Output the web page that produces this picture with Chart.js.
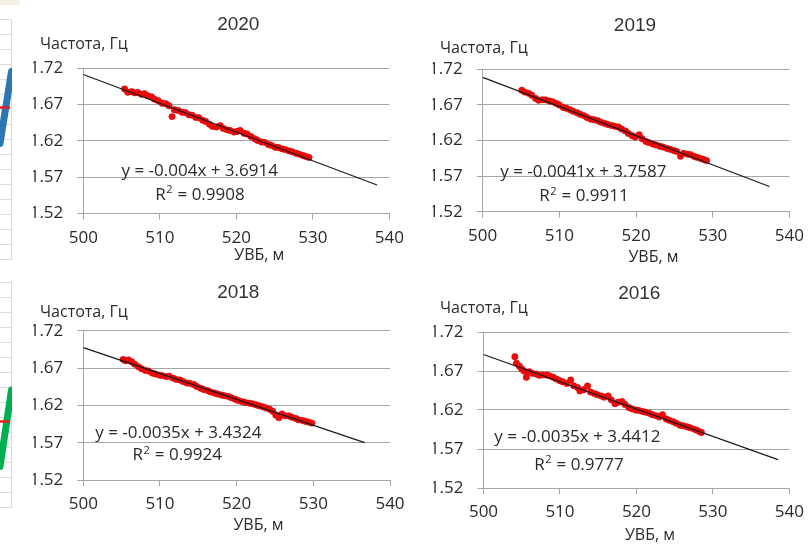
<!DOCTYPE html>
<html>
<head>
<meta charset="utf-8">
<script src="https://cdn.jsdelivr.net/npm/chart.js@4.4.1/dist/chart.umd.min.js"></script>
<style>
  html, body { margin: 0; padding: 0; background: #ffffff; }
  body { width: 812px; height: 544px; position: relative; overflow: hidden; }
  canvas { position: absolute; left: 0; top: 0; }
</style>
</head>
<body>
<canvas id="stripTop" width="812" height="544"></canvas>
<canvas id="stripBottom" width="812" height="544"></canvas>
<canvas id="c2020" width="812" height="544"></canvas>
<canvas id="c2019" width="812" height="544"></canvas>
<canvas id="c2018" width="812" height="544"></canvas>
<canvas id="c2016" width="812" height="544"></canvas>
<script>
// ---- Measurements: water level (УВБ, m) and natural frequency (Hz) ----
const uvb2020 = [505.4, 505.8, 506.3, 506.7, 507.1, 507.6, 508.0, 508.4, 508.9, 509.3,
  509.8, 510.3, 510.8, 511.2, 511.6, 511.9, 512.4, 512.9, 513.3, 513.8,
  514.2, 514.7, 515.1, 515.6, 516.0, 516.5, 516.9, 517.4, 517.9, 518.3,
  518.8, 519.2, 519.7, 520.1, 520.5, 521.0, 521.4, 521.9, 522.4, 522.8,
  523.3, 523.7, 524.2, 524.6, 525.1, 525.5, 526.0, 526.4, 526.9, 527.3,
  527.8, 528.2, 528.7, 529.1, 529.5];
const freq2020 = [1.6915, 1.6870, 1.6878, 1.6862, 1.6868, 1.6842, 1.6850, 1.6822, 1.6808, 1.6775,
  1.6752, 1.6718, 1.6712, 1.6684, 1.6535, 1.6630, 1.6620, 1.6594, 1.6592, 1.6561,
  1.6555, 1.6524, 1.6520, 1.6484, 1.6468, 1.6428, 1.6400, 1.6392, 1.6410, 1.6372,
  1.6352, 1.6343, 1.6322, 1.6330, 1.6345, 1.6305, 1.6296, 1.6262, 1.6230, 1.6205,
  1.6184, 1.6180, 1.6150, 1.6138, 1.6112, 1.6110, 1.6090, 1.6080, 1.6062, 1.6050,
  1.6030, 1.6018, 1.5998, 1.5985, 1.5972];

const uvb2019 = [505.1, 505.5, 506.0, 506.4, 506.9, 507.3, 507.8, 508.2, 508.7, 509.1,
  509.6, 510.0, 510.5, 510.9, 511.4, 511.8, 512.3, 512.7, 513.2, 513.6,
  514.1, 514.5, 515.0, 515.4, 515.9, 516.3, 516.8, 517.2, 517.7, 518.1,
  518.6, 519.0, 519.5, 519.9, 520.4, 520.8, 521.3, 521.7, 522.2, 522.6,
  523.1, 523.5, 524.0, 524.4, 524.9, 525.3, 525.8, 526.2, 526.7, 527.1,
  527.6, 528.0, 528.5, 528.9, 529.2];
const freq2019 = [1.6905, 1.6880, 1.6862, 1.6835, 1.6790, 1.6765, 1.6772, 1.6770, 1.6755, 1.6745,
  1.6720, 1.6698, 1.6665, 1.6652, 1.6632, 1.6610, 1.6590, 1.6568, 1.6550, 1.6522,
  1.6500, 1.6492, 1.6478, 1.6458, 1.6440, 1.6425, 1.6412, 1.6400, 1.6390, 1.6362,
  1.6335, 1.6300, 1.6268, 1.6248, 1.6280, 1.6225, 1.6185, 1.6170, 1.6150, 1.6138,
  1.6120, 1.6108, 1.6090, 1.6078, 1.6060, 1.6046, 1.5978, 1.6020, 1.6008, 1.6002,
  1.5975, 1.5962, 1.5945, 1.5930, 1.5918];

const uvb2018 = [505.2, 505.5, 505.9, 506.3, 506.7, 507.2, 507.6, 508.1, 508.5, 509.0,
  509.4, 509.9, 510.3, 510.8, 511.2, 511.7, 512.1, 512.6, 513.0, 513.5,
  513.9, 514.4, 514.8, 515.3, 515.7, 516.2, 516.6, 517.1, 517.5, 518.0,
  518.4, 518.9, 519.3, 519.8, 520.2, 520.7, 521.1, 521.6, 522.0, 522.5,
  522.9, 523.4, 523.8, 524.3, 524.7, 525.1, 525.5, 525.9, 526.3, 526.8,
  527.2, 527.7, 528.1, 528.6, 529.0, 529.4, 529.8];
const freq2018 = [1.6815, 1.6798, 1.6808, 1.6785, 1.6752, 1.6718, 1.6690, 1.6668, 1.6660, 1.6632,
  1.6620, 1.6605, 1.6598, 1.6585, 1.6590, 1.6565, 1.6548, 1.6540, 1.6520, 1.6500,
  1.6495, 1.6480, 1.6452, 1.6430, 1.6412, 1.6398, 1.6380, 1.6365, 1.6352, 1.6338,
  1.6330, 1.6320, 1.6302, 1.6282, 1.6265, 1.6250, 1.6240, 1.6230, 1.6222, 1.6208,
  1.6195, 1.6182, 1.6165, 1.6148, 1.6120, 1.6070, 1.6035, 1.6085, 1.6060, 1.6058,
  1.6040, 1.6025, 1.6005, 1.5998, 1.5985, 1.5975, 1.5962];

const uvb2016 = [504.1, 504.3, 504.7, 505.0, 505.3, 505.6, 506.0, 506.4, 506.9, 507.3,
  507.7, 508.2, 508.6, 509.1, 509.5, 510.0, 510.4, 510.9, 511.4, 511.8,
  512.3, 512.6, 513.1, 513.6, 514.0, 514.5, 514.9, 515.4, 515.8, 516.3,
  516.7, 517.2, 517.6, 518.1, 518.5, 519.0, 519.4, 519.9, 520.3, 520.8,
  521.2, 521.7, 522.1, 522.6, 523.0, 523.4, 523.9, 524.3, 524.8, 525.2,
  525.7, 526.1, 526.6, 527.0, 527.5, 527.9, 528.3, 528.5];
const freq2016 = [1.6883, 1.6800, 1.6760, 1.6725, 1.6700, 1.6619, 1.6690, 1.6670, 1.6660, 1.6645,
  1.6650, 1.6648, 1.6640, 1.6620, 1.6598, 1.6575, 1.6560, 1.6540, 1.6585, 1.6510,
  1.6488, 1.6445, 1.6460, 1.6508, 1.6430, 1.6410, 1.6395, 1.6380, 1.6365, 1.6380,
  1.6330, 1.6280, 1.6300, 1.6310, 1.6270, 1.6232, 1.6215, 1.6200, 1.6195, 1.6180,
  1.6172, 1.6158, 1.6140, 1.6125, 1.6110, 1.6140, 1.6085, 1.6068, 1.6050, 1.6030,
  1.6005, 1.5998, 1.5985, 1.5972, 1.5955, 1.5940, 1.5920, 1.5912];

// ---- Linear trends: f = slope * УВБ + intercept ----
const years      = ['2020', '2019', '2018', '2016'];
const slopes     = [-0.00396, -0.0041, -0.00347, -0.0035];
const intercepts = [3.6914, 3.7587, 3.4324, 3.4412];
const rSquared   = [0.9908, 0.9911, 0.9924, 0.9777];
const trendFrom  = [500, 500, 500, 500];
const trendTo    = [538.4, 537.4, 536.7, 538.5];

// ---- Axis ticks ----
const xTicks = [500, 510, 520, 530, 540];
const yTicks = [1.52, 1.57, 1.62, 1.67, 1.72];

// ---- Neighbouring panel (partly visible at the left edge) ----
const sideTopX = [0, 11.5];
const sideTopY = [7.7, 12.5];
const sideTopMean = 10.1;
const sideBottomX = [0, 11.5];
const sideBottomY = [2.7, 7.8];
const sideBottomMean = 5.7;

const CANVAS_W = 812, CANVAS_H = 544;
const GRID = '#a6a6a6';
const TEXT = '#2b2b2b';
const BODY_FONT = '"Open Sans", "Noto Sans", sans-serif';
const TITLE_FONT = '"Liberation Sans", Arial, sans-serif';
const AXIS_W = 50, AXIS_H = 45;

// Panel geometry (page pixels): plot area and text anchors (baselines)
const panels = [
  { id: 'c2020', x: uvb2020, y: freq2020, area: [83.3, 68.3, 389.3, 213.5],
    title: [238.3, 30], ycap: [40, 49], xcap: [259.3, 260], eq: [199.7, 176], r2: [200, 199.5] },
  { id: 'c2019', x: uvb2019, y: freq2019, area: [482.7, 69.3, 790, 211.7],
    title: [635, 30.7], ycap: [440, 53], xcap: [653.5, 261.5], eq: [583.3, 176.5], r2: [584, 201] },
  { id: 'c2018', x: uvb2018, y: freq2018, area: [83.3, 330.7, 390, 480],
    title: [238.3, 298.3], ycap: [40, 316.5], xcap: [258.5, 530], eq: [178.3, 438], r2: [177.3, 460] },
  { id: 'c2016', x: uvb2016, y: freq2016, area: [483.5, 332, 790, 488],
    title: [639.3, 299.3], ycap: [440, 313], xcap: [650, 540], eq: [577.3, 442], r2: [579, 469.5] }
];

function fmtCoef(v) {
  return String(parseFloat(v.toFixed(4)));
}

// Title, axis captions and the trend equation drawn as canvas text
const panelText = {
  id: 'panelText',
  afterDraw(chart, args, opts) {
    const p = opts.panel, i = opts.index;
    const ctx = chart.ctx;
    ctx.save();
    ctx.textBaseline = 'alphabetic';

    ctx.fillStyle = '#333333';
    ctx.font = '19px ' + TITLE_FONT;
    ctx.textAlign = 'center';
    ctx.fillText(years[i], p.title[0], p.title[1]);

    ctx.fillStyle = TEXT;
    ctx.font = '16px ' + BODY_FONT;
    ctx.textAlign = 'left';
    ctx.fillText('Частота, Гц', p.ycap[0], p.ycap[1]);
    ctx.textAlign = 'center';
    ctx.fillText('УВБ, м', p.xcap[0], p.xcap[1]);

    ctx.font = '17px ' + BODY_FONT;
    const b = intercepts[i];
    const eq = 'y = ' + fmtCoef(slopes[i]) + 'x ' + (b >= 0 ? '+ ' : '- ') + fmtCoef(Math.abs(b));
    ctx.fillText(eq, p.eq[0], p.eq[1]);

    // R² with a raised, smaller "2"
    const head = 'R', tail = ' = ' + rSquared[i].toFixed(4);
    const supFont = '11px ' + BODY_FONT;
    ctx.font = '17px ' + BODY_FONT;
    const wHead = ctx.measureText(head).width, wTail = ctx.measureText(tail).width;
    ctx.font = supFont;
    const wSup = ctx.measureText('2').width + 1;
    const total = wHead + wSup + wTail;
    let x0 = p.r2[0] - total / 2;
    ctx.textAlign = 'left';
    ctx.font = '17px ' + BODY_FONT;
    ctx.fillText(head, x0, p.r2[1]);
    ctx.font = supFont;
    ctx.fillText('2', x0 + wHead + 0.5, p.r2[1] - 6.5);
    ctx.font = '17px ' + BODY_FONT;
    ctx.fillText(tail, x0 + wHead + wSup, p.r2[1]);
    ctx.restore();
  }
};

panels.forEach((p, i) => {
  const pts = p.x.map((v, k) => ({ x: v, y: p.y[k] }));
  const trend = [trendFrom[i], trendTo[i]].map(v => ({ x: v, y: slopes[i] * v + intercepts[i] }));
  new Chart(document.getElementById(p.id), {
    type: 'scatter',
    data: {
      datasets: [
        { type: 'line', data: trend, borderColor: '#1a1a1a', borderWidth: 1.2,
          pointRadius: 0, fill: false, order: 0 },
        { type: 'scatter', data: pts, backgroundColor: '#f00a0a', borderColor: '#d00000',
          borderWidth: 0.5, pointRadius: 3.2, order: 1 }
      ]
    },
    options: {
      responsive: false, animation: false, devicePixelRatio: 1,
      events: [],
      layout: { padding: {
        left: p.area[0] - AXIS_W, top: p.area[1],
        right: CANVAS_W - p.area[2], bottom: CANVAS_H - p.area[3] - AXIS_H } },
      plugins: { legend: { display: false }, tooltip: { enabled: false },
        panelText: { panel: p, index: i } },
      scales: {
        x: {
          type: 'linear', min: 500, max: 540,
          afterBuildTicks: s => { s.ticks = xTicks.map(v => ({ value: v })); },
          afterFit: s => { s.height = AXIS_H; },
          grid: { color: 'rgba(0,0,0,0)', tickColor: GRID, drawTicks: true, tickLength: 6 },
          border: { display: true, color: GRID, width: 1 },
          ticks: { color: TEXT, font: { family: BODY_FONT, size: 17 }, padding: 8,
            maxRotation: 0, autoSkip: false }
        },
        y: {
          type: 'linear', min: 1.52, max: 1.72,
          afterBuildTicks: s => { s.ticks = yTicks.map(v => ({ value: v })); },
          afterFit: s => { s.width = AXIS_W; },
          grid: { color: GRID, tickColor: GRID, drawTicks: true, tickLength: 6 },
          border: { display: true, color: GRID, width: 1 },
          ticks: { color: TEXT, font: { family: BODY_FONT, size: 17 }, padding: 14,
            callback: v => v.toFixed(2) }
        }
      }
    },
    plugins: [panelText]
  });
});

// ---- Sliver of the neighbouring chart at the left edge ----
const stripBand = {
  id: 'stripBand',
  beforeDraw(chart, args, opts) {
    if (!opts.band) return;
    const ctx = chart.ctx;
    ctx.save();
    ctx.fillStyle = '#f3f1e3';
    ctx.fillRect(0, 0, 20, 5);
    ctx.restore();
  }
};

function sideChart(id, top, bottom, steps, xs, ys, mean, color, band) {
  new Chart(document.getElementById(id), {
    type: 'scatter',
    data: { datasets: [
      { type: 'line', data: [{ x: 0, y: mean }, { x: 10, y: mean }], borderColor: '#e0201a',
        borderWidth: 2.5, pointRadius: 0, order: 0 },
      { type: 'line', data: xs.map((v, k) => ({ x: v, y: ys[k] })), borderColor: color,
        borderWidth: 7, borderCapStyle: 'round', pointRadius: 0, order: 1 }
    ] },
    options: {
      responsive: false, animation: false, devicePixelRatio: 1, events: [],
      layout: { padding: { left: 0, top: top, right: CANVAS_W - 12, bottom: CANVAS_H - bottom } },
      plugins: { legend: { display: false }, tooltip: { enabled: false }, stripBand: { band: band } },
      scales: {
        x: { type: 'linear', min: 0, max: 12,
          afterBuildTicks: s => { s.ticks = [{ value: 11 }]; },
          afterFit: s => { s.height = 0; },
          grid: { color: '#d9d9d9', drawTicks: false }, border: { display: false },
          ticks: { display: false } },
        y: { type: 'linear', min: 0, max: steps,
          afterBuildTicks: s => { s.ticks = Array.from({ length: steps + 1 }, (_, k) => ({ value: k })); },
          afterFit: s => { s.width = 0; },
          grid: { color: '#dedede', drawTicks: false }, border: { display: false },
          ticks: { display: false } }
      }
    },
    plugins: [stripBand]
  });
}
sideChart('stripTop', 19, 259, 16, sideTopX, sideTopY, sideTopMean, '#2e75b6', true);
sideChart('stripBottom', 282, 507, 15, sideBottomX, sideBottomY, sideBottomMean, '#00b050', false);
</script>
</body>
</html>
